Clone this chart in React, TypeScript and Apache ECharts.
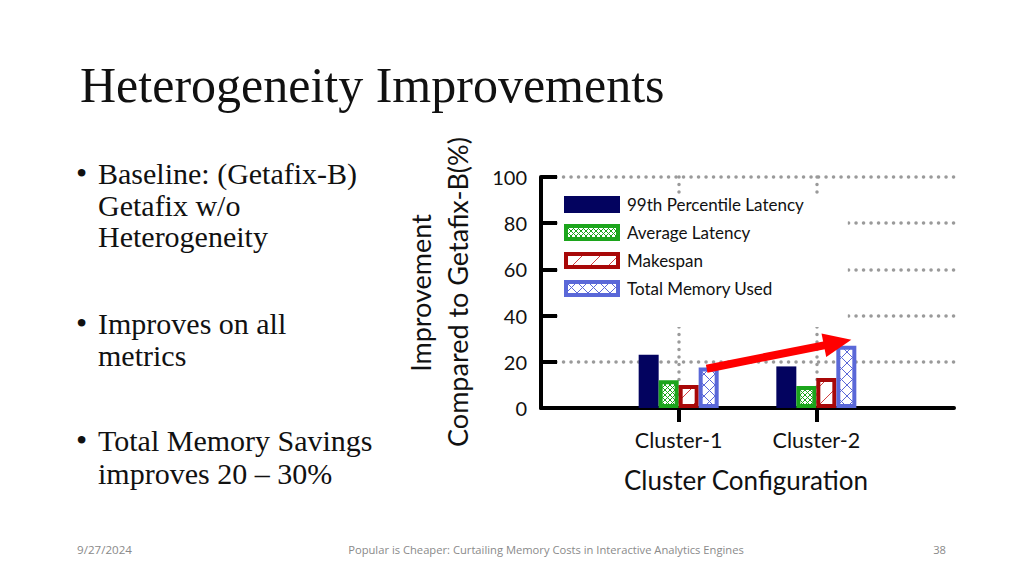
import React, { useEffect, useRef } from "react";
import * as echarts from "echarts";

// ---------- data ----------
const categories = ["", "Cluster-1", "Cluster-2", ""];
const seriesNames = ["99th Percentile Latency", "Average Latency", "Makespan", "Total Memory Used"];
const p99Latency = [23, 18];
const avgLatency = [12, 9.5];
const makespan = [10, 13];
const totalMemory = [17.5, 27];
const yMin = 0;
const yMax = 100;
const yInterval = 20;
// arrow annotation: [category, value]
const arrowFrom: [string, number] = ["Cluster-1", 17];
const arrowTo: [string, number] = ["Cluster-2", 29.5];

const titleText = "Heterogeneity Improvements";
const bullets = [
  ["Baseline: (Getafix-B)", "Getafix w/o", "Heterogeneity"],
  ["Improves on all", "metrics"],
  ["Total Memory Savings", "improves 20 \u2013 30%"],
];
const footerDate = "9/27/2024";
const footerTitle = "Popular is Cheaper: Curtailing Memory Costs in Interactive Analytics Engines";
const footerPage = "38";

const NAVY = "#03035f";
const GREEN = "#1ca51c";
const RED = "#a80808";
const BLUE = "#5a68d8";

function pad(arr: number[]) {
  return ["-", ...arr, "-"];
}

function makePattern(size: number, color: string, draw: (ctx: CanvasRenderingContext2D, s: number) => void) {
  const c = document.createElement("canvas");
  c.width = size;
  c.height = size;
  const ctx = c.getContext("2d")!;
  ctx.fillStyle = "#ffffff";
  ctx.fillRect(0, 0, size, size);
  ctx.strokeStyle = color;
  ctx.lineWidth = 1;
  draw(ctx, size);
  return c;
}

export default function App() {
  const ref = useRef<HTMLDivElement>(null);
  useEffect(() => {
    if (!ref.current) return;
    const chart = echarts.init(ref.current, undefined, { renderer: "svg" });

    const cross = (ctx: CanvasRenderingContext2D, s: number) => {
      ctx.beginPath();
      ctx.moveTo(0, 0);
      ctx.lineTo(s, s);
      ctx.moveTo(0, s);
      ctx.lineTo(s, 0);
      ctx.stroke();
    };
    const greenPat = makePattern(5, GREEN, cross);
    const bluePat = makePattern(11, BLUE, cross);
    const redPat = makePattern(18, "#d04040", (ctx, s) => {
      ctx.beginPath();
      ctx.moveTo(0, s);
      ctx.lineTo(s, 0);
      ctx.stroke();
    });

    const dotted = {
      color: "#9a9a9a",
      width: 3.5,
      type: [0.1, 7.4] as any,
      cap: "round" as const,
    };

    const gill = "Lato, 'Open Sans', sans-serif";
    const serif = "'Liberation Serif', 'DejaVu Serif', serif";

    const texts: any[] = [];
    texts.push({
      type: "text",
      style: { text: titleText, x: 80, y: 85, font: `50px ${serif}`, fill: "#111", align: "left", verticalAlign: "middle" },
    });
    const bulletBaselines = [
      [183, 215, 246],
      [333, 365],
      [450, 483],
    ];
    bullets.forEach((lines, bi) => {
      texts.push({
        type: "text",
        style: { text: "\u2022", x: 76, y: bulletBaselines[bi][0] - 10, font: `32px ${serif}`, fill: "#111", align: "left", verticalAlign: "middle" },
      });
      lines.forEach((ln, li) => {
        texts.push({
          type: "text",
          style: { text: ln, x: 98, y: bulletBaselines[bi][li] - 10, font: `30px ${serif}`, fill: "#111", align: "left", verticalAlign: "middle" },
        });
      });
    });
    const footFont = `11.2px 'Open Sans', 'Liberation Sans', sans-serif`;
    texts.push({ type: "text", style: { text: footerDate, x: 77, y: 549, font: `11.6px 'Open Sans', sans-serif`, fill: "#8a8a8a", align: "left", verticalAlign: "middle" } });
    texts.push({ type: "text", style: { text: footerTitle, x: 546, y: 549, font: footFont, fill: "#8a8a8a", align: "center", verticalAlign: "middle" } });
    texts.push({ type: "text", style: { text: footerPage, x: 946, y: 549, font: footFont, fill: "#8a8a8a", align: "right", verticalAlign: "middle" } });
    // axis names
    texts.push({
      type: "text", x: 420, y: 293, rotation: Math.PI / 2,
      style: { text: "Improvement", x: 0, y: 0, font: `27px ${gill}`, fill: "#111", align: "center", verticalAlign: "middle" },
    });
    texts.push({
      type: "text", x: 457, y: 292, rotation: Math.PI / 2,
      style: { text: "Compared to Getafix-B(%)", x: 0, y: 0, font: `27px ${gill}`, fill: "#111", align: "center", verticalAlign: "middle" },
    });
    texts.push({
      type: "text",
      style: { text: "Cluster Configuration", x: 746, y: 480, font: `26px ${gill}`, fill: "#111", align: "center", verticalAlign: "middle" },
    });

    const barBase = { type: "bar" as const, barWidth: 20, barGap: "0%" };

    chart.setOption({
      animation: false,
      backgroundColor: "#ffffff",
      grid: { left: 541, right: 70, top: 177, bottom: 168 },
      legend: {
        left: 558,
        top: 194,
        orient: "vertical",
        backgroundColor: "#ffffff",
        padding: [2, 44, 30, 6],
        itemWidth: 52,
        itemHeight: 13,
        itemGap: 11,
        icon: "rect",
        textStyle: { fontFamily: gill, fontSize: 17, color: "#111", lineHeight: 16, padding: [0, 0, 0, 4] },
        data: [
          { name: seriesNames[0], itemStyle: { borderColor: NAVY, borderWidth: 4 } },
          { name: seriesNames[1], itemStyle: { borderColor: GREEN, borderWidth: 4 } },
          { name: seriesNames[2], itemStyle: { borderColor: RED, borderWidth: 4 } },
          { name: seriesNames[3], itemStyle: { borderColor: BLUE, borderWidth: 4 } },
        ],
      },
      xAxis: {
        type: "category",
        data: categories,
        boundaryGap: false,
        axisLine: { lineStyle: { color: "#000", width: 4 } },
        axisTick: {
          show: true,
          length: 14,
          lineStyle: { color: "#000", width: 4 },
          interval: (i: number, v: string) => v !== "",
        },
        axisLabel: { interval: 0, fontFamily: gill, fontSize: 21.5, color: "#111", margin: 21 },
        splitLine: { show: true, interval: (i: number, v: string) => v !== "", lineStyle: dotted },
      },
      yAxis: {
        type: "value",
        min: yMin,
        max: yMax,
        interval: yInterval,
        axisLine: { show: true, lineStyle: { color: "#000", width: 4 } },
        axisTick: { show: true, inside: true, length: 16, lineStyle: { color: "#000", width: 4 } },
        axisLabel: { fontFamily: gill, fontSize: 20, color: "#111", margin: 14 },
        splitLine: { show: true, lineStyle: dotted },
      },
      series: [
        { ...barBase, name: seriesNames[0], data: pad(p99Latency), itemStyle: { color: NAVY } },
        { ...barBase, name: seriesNames[1], data: pad(avgLatency), itemStyle: { color: { image: greenPat, repeat: "repeat" }, borderColor: GREEN, borderWidth: 4 } },
        { ...barBase, name: seriesNames[2], data: pad(makespan), itemStyle: { color: { image: redPat, repeat: "repeat" }, borderColor: RED, borderWidth: 4 } },
        { ...barBase, name: seriesNames[3], data: pad(totalMemory), itemStyle: { color: { image: bluePat, repeat: "repeat" }, borderColor: BLUE, borderWidth: 4 } },
      ],
      graphic: texts,
    });

    // arrow annotation placed via axes
    const a = chart.convertToPixel({ xAxisIndex: 0, yAxisIndex: 0 }, [arrowFrom[0], arrowFrom[1]]) as number[];
    const b = chart.convertToPixel({ xAxisIndex: 0, yAxisIndex: 0 }, [arrowTo[0], arrowTo[1]]) as number[];
    const sx = a[0] + 28, sy = a[1];
    const tx = b[0] + 35, ty = b[1];
    const dx = tx - sx, dy = ty - sy;
    const len = Math.sqrt(dx * dx + dy * dy);
    const ux = dx / len, uy = dy / len;
    const nx = -uy, ny = ux;
    const L = 28, W = 12;
    const bx = tx - ux * L, by = ty - uy * L;
    chart.setOption({
      graphic: [
        ...texts,
        {
          type: "line",
          z: 10,
          shape: { x1: sx, y1: sy, x2: bx + ux * 4, y2: by + uy * 4 },
          style: { stroke: "#ff0000", lineWidth: 8 },
        },
        {
          type: "polygon",
          z: 10,
          shape: { points: [[tx, ty], [bx + nx * W, by + ny * W], [bx - nx * W, by - ny * W]] },
          style: { fill: "#ff0000" },
        },
      ],
    });

    return () => chart.dispose();
  }, []);
  return <div ref={ref} style={{ position: "fixed", left: 0, top: 0, width: 1024, height: 576 }} />;
}
